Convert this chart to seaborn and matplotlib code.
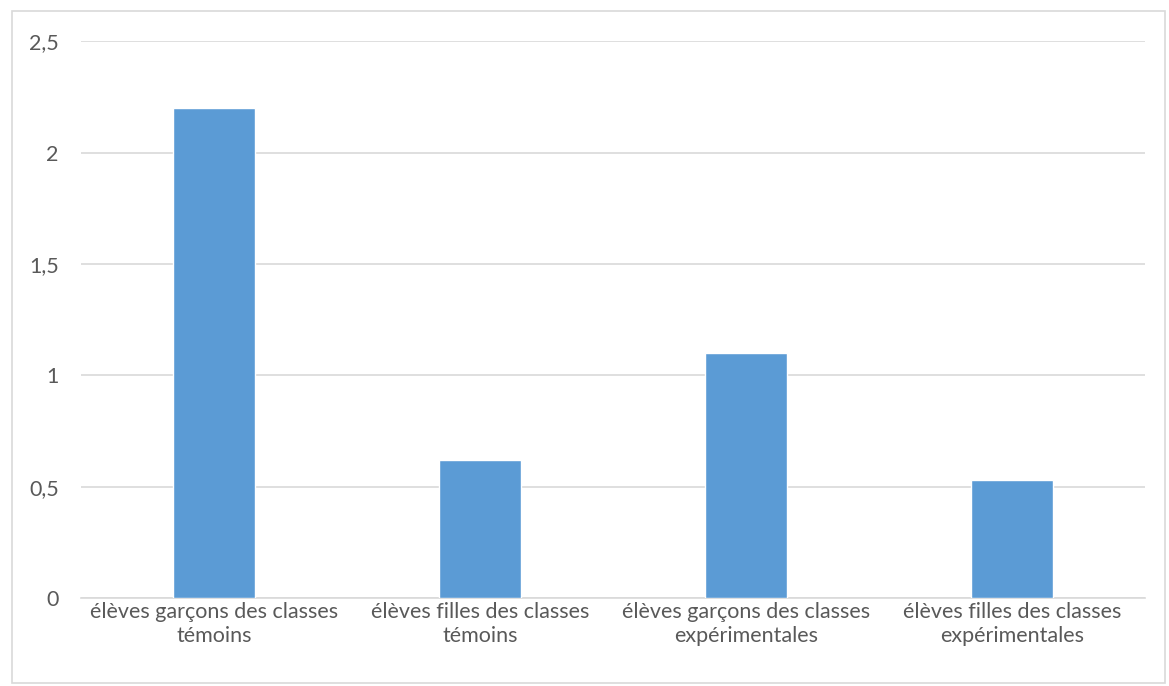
import matplotlib
matplotlib.use('Agg')
import matplotlib.pyplot as plt
import matplotlib.patches as mpatches
import seaborn as sns
import pandas as pd

categories = [
    "élèves garçons des classes\ntémoins",
    "élèves filles des classes\ntémoins",
    "élèves garçons des classes\nexpérimentales",
    "élèves filles des classes\nexpérimentales",
]
values = [2.2, 0.62, 1.1, 0.53]
y_ticks = [0, 0.5, 1, 1.5, 2, 2.5]
y_tick_labels = ["0", "0,5", "1", "1,5", "2", "2,5"]

sns.set_theme(style='white')
plt.rcParams['font.family'] = ['Lato', 'DejaVu Sans']

df = pd.DataFrame({'cat': categories, 'val': values})

fig = plt.figure(figsize=(11.69, 6.86), dpi=100)
ax = fig.add_axes([0.0693, 0.128, 0.9102, 0.812])

# chart border like an Excel chart area
fig.patches.append(mpatches.Rectangle((0.0105, 0.004), 0.986, 0.98, transform=fig.transFigure,
                                      fill=False, edgecolor='#d9d9d9', linewidth=1.2))

sns.barplot(data=df, x='cat', y='val', color='#5b9bd5', saturation=1, width=0.31, ax=ax, zorder=3)

ax.set_ylim(0, 2.5)
ax.set_xlim(-0.5, 3.5)
ax.set_yticks(y_ticks)
ax.set_yticklabels(y_tick_labels)
ax.yaxis.grid(True, color='#d9d9d9', linewidth=1.2, zorder=0)
ax.set_axisbelow(True)
ax.set_xlabel('')
ax.set_ylabel('')
for side in ['left', 'right', 'top']:
    ax.spines[side].set_visible(False)
ax.spines['bottom'].set_color('#d9d9d9')
ax.spines['bottom'].set_linewidth(1.2)
ax.tick_params(axis='both', length=0, colors='#595959', labelsize=15.5)
ax.tick_params(axis='y', pad=16)
ax.tick_params(axis='x', pad=3)
for lbl in ax.get_xticklabels():
    lbl.set_linespacing(1.25)

plt.savefig('out.png', dpi=100)
plt.close()
